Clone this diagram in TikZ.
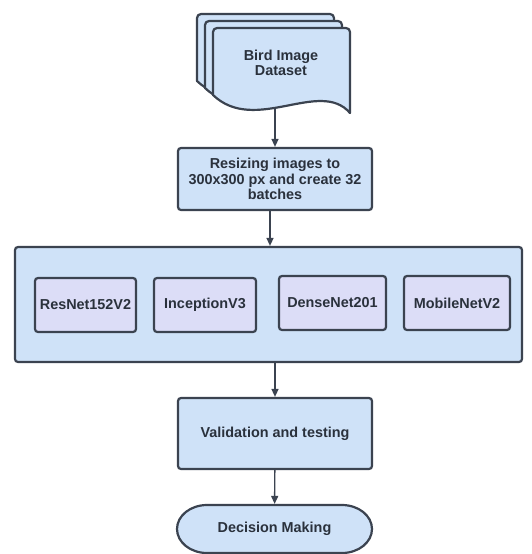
\documentclass[tikz,border=0pt]{standalone}
\usepackage{fontspec}
\setmainfont{Liberation Sans}
\usetikzlibrary{arrows.meta}
\definecolor{boxfill}{HTML}{CFE2F8}
\definecolor{modelfill}{HTML}{DCDDF7}
\definecolor{edgegray}{HTML}{3B4350}
\definecolor{textgray}{HTML}{2A313C}
\begin{document}
\begin{tikzpicture}[x=1pt, y=-1pt, line width=2.2pt,
  every node/.style={font=\fontsize{14.4}{15.5}\selectfont\bfseries, text=textgray, align=center},
  box node/.style={rectangle, draw=edgegray, fill=boxfill, rounded corners=3pt, inner sep=0pt},
  model node/.style={box node, fill=modelfill},
  flow arrow/.style={draw=edgegray, line width=1.4pt, -{Triangle[length=8pt,width=7pt]}},
  sheet/.style={draw=edgegray, fill=boxfill, line join=round}]
\useasboundingbox (0,0) rectangle (531,554);
% stack of dataset sheets
\foreach \dx/\dy in {-16/-14, -8/-7, 0/0}
  \draw[sheet, shift={(\dx,\dy)}] (213,95) [rounded corners=4pt] -- (213,28) -- (350,28) [sharp corners] -- (350,113)
    .. controls (320,78) and (255,135) .. (213,95) -- cycle;
\node (data) at (281,63) {Bird Image\\Dataset};
\coordinate (dataout) at (275,107);
\node[box node, minimum width=194pt, minimum height=62pt] (resize) at (275,179) {Resizing images to\\300x300 px and create 32\\batches};
\node[box node, minimum width=507pt, minimum height=115pt] (models) at (268.5,304.5) {};
\node[model node, minimum width=101pt, minimum height=54pt] (m1) at (85.5,305) {ResNet152V2};
\node[model node, minimum width=102pt, minimum height=54pt] (m2) at (205,305) {InceptionV3};
\node[model node, minimum width=107pt, minimum height=54pt] (m3) at (332.5,303) {DenseNet201};
\node[model node, minimum width=106pt, minimum height=54pt] (m4) at (457,303) {MobileNetV2};
\node[box node, minimum width=194pt, minimum height=71pt] (val) at (275,433.5) {Validation and testing};
% terminator with elliptic ends
\draw[sheet] (207,505) -- (342,505) arc[start angle=90, end angle=-90, x radius=30pt, y radius=24pt]
  -- (207,553) arc[start angle=270, end angle=90, x radius=30pt, y radius=24pt] -- cycle;
\node[minimum width=195pt, minimum height=48pt, inner sep=0pt] (decide) at (274.5,529) {Decision Making};
\draw[flow arrow] (dataout) -- (resize);
\draw[flow arrow] (resize.south -| 270,0) -- (models.north -| 270,0);
\draw[flow arrow] (val.north |- models.south) -- (val);
\draw[flow arrow] (val) -- (decide);
\end{tikzpicture}
\end{document}
